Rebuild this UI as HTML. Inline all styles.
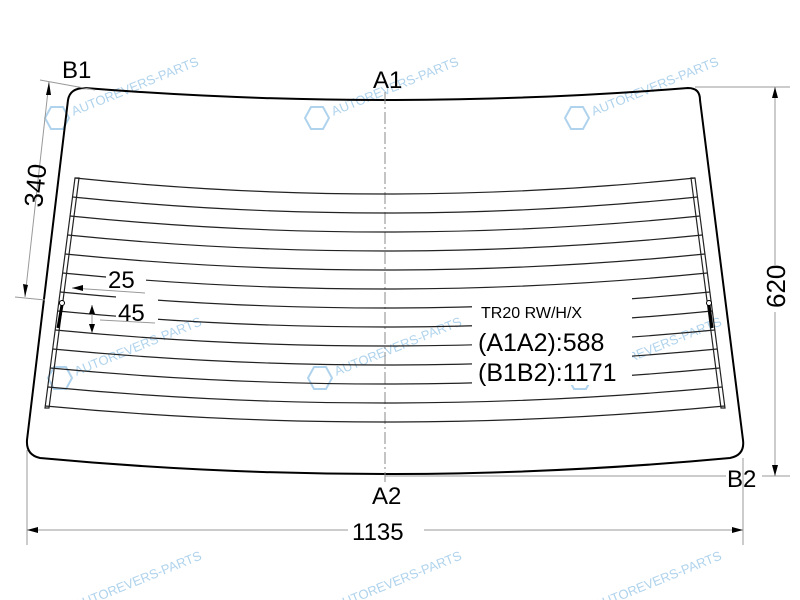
<!DOCTYPE html>
<html><head><meta charset="utf-8"><style>
html,body{margin:0;padding:0;background:#fff;}
svg{display:block;font-family:"Liberation Sans",Arial,sans-serif;}
</style></head><body>
<svg width="800" height="600" viewBox="0 0 800 600" xmlns="http://www.w3.org/2000/svg">
<g fill="#9cc8e8" font-size="13" opacity="0.8">
 <g transform="translate(55,118) rotate(-22)"><text x="18" y="5">AUTOREVERS-PARTS</text></g>
 <g transform="translate(315,118) rotate(-22)"><text x="18" y="5">AUTOREVERS-PARTS</text></g>
 <g transform="translate(575,118) rotate(-22)"><text x="18" y="5">AUTOREVERS-PARTS</text></g>
 <g transform="translate(58,378) rotate(-22)"><text x="18" y="5">AUTOREVERS-PARTS</text></g>
 <g transform="translate(318,378) rotate(-22)"><text x="18" y="5">AUTOREVERS-PARTS</text></g>
 <g transform="translate(578,378) rotate(-22)"><text x="18" y="5">AUTOREVERS-PARTS</text></g>
 <g transform="translate(58,612) rotate(-22)"><text x="18" y="5">AUTOREVERS-PARTS</text></g>
 <g transform="translate(318,612) rotate(-22)"><text x="18" y="5">AUTOREVERS-PARTS</text></g>
 <g transform="translate(578,612) rotate(-22)"><text x="18" y="5">AUTOREVERS-PARTS</text></g>
</g>
<g fill="none" stroke="#9cc8e8" stroke-width="2" opacity="0.8">
 <polygon points="45,118 51,107 63,107 69,118 63,129 51,129"/>
 <polygon points="305,118 311,107 323,107 329,118 323,129 311,129"/>
 <polygon points="565,118 571,107 583,107 589,118 583,129 571,129"/>
 <polygon points="48,378 54,367 66,367 72,378 66,389 54,389"/>
 <polygon points="308,378 314,367 326,367 332,378 326,389 314,389"/>
 <polygon points="568,378 574,367 586,367 592,378 586,389 574,389"/>
</g>
<path d="M85,88 Q385,112 688,88 Q700,88 700,100 L743,440 Q745,455 730,458 Q385,490 40,458 Q26,455 27,440 L68,100 Q70,88 85,88 Z" fill="none" stroke="#000" stroke-width="2"/>
<line x1="385" y1="92" x2="385" y2="482" stroke="#888" stroke-width="1" stroke-dasharray="12,3,2,3"/>
<g fill="none" stroke="#222" stroke-width="1.2">
<path d="M75,178 Q385,210 695,178"/>
<path d="M72.5,197 Q385,229 697.5,197"/>
<path d="M70,216 Q385,248 700,216"/>
<path d="M67.6,235 Q385,267 702.4,235"/>
<path d="M65.1,254 Q385,286 704.9,254"/>
<path d="M62.6,273 Q385,305 707.4,273"/>
<path d="M60.2,292 Q385,324 709.8,292"/>
<path d="M57.7,311 Q385,343 712.3,311"/>
<path d="M55.2,330 Q385,362 714.8,330"/>
<path d="M52.7,349 Q385,381 717.3,349"/>
<path d="M50.3,368 Q385,400 719.7,368"/>
<path d="M47.8,387 Q385,419 722.2,387"/>
<path d="M45.3,406 Q385,438 724.7,406"/>
<path d="M75,178 L45,408 L49,408 L79,178 Z"/>
<path d="M695,178 L725,408 L721,408 L691,178 Z"/>
</g>
<g stroke="#000" stroke-width="3" fill="#fff">
<line x1="62" y1="305" x2="58" y2="328"/>
<line x1="709" y1="305" x2="712" y2="328"/>
</g>
<circle cx="62" cy="303" r="2.5" fill="#fff" stroke="#000"/>
<circle cx="709" cy="303" r="2.5" fill="#fff" stroke="#000"/>
<rect x="106" y="263" width="40" height="27" fill="#fff"/>
<rect x="116" y="296" width="42" height="27" fill="#fff"/>
<rect x="472" y="295" width="160" height="90" fill="#fff"/>
<g stroke="#999" stroke-width="1" fill="none">
<line x1="40" y1="80" x2="95" y2="90"/>
<line x1="15" y1="297" x2="45" y2="300"/>
<line x1="49" y1="82" x2="25" y2="297"/>
<line x1="72" y1="288" x2="145" y2="293"/>
<line x1="92" y1="305" x2="92" y2="333"/>
<line x1="100" y1="320" x2="155" y2="323"/>
<line x1="695" y1="87" x2="790" y2="87"/>
<line x1="775" y1="87" x2="775" y2="265"/>
<line x1="775" y1="312" x2="775" y2="476"/>
<line x1="385" y1="476" x2="726" y2="476"/>
<line x1="762" y1="476" x2="790" y2="476"/>
<line x1="27" y1="450" x2="27" y2="545"/>
<line x1="743" y1="458" x2="743" y2="545"/>
<line x1="27" y1="530" x2="348" y2="530"/>
<line x1="424" y1="530" x2="743" y2="530"/>
</g>
<g fill="#000">
<polygon points="49,82 46,95 51,95"/>
<polygon points="25,297 23,284 28,285"/>
<polygon points="72,288 83,285 83,291"/>
<polygon points="92,305 89,314 95,314"/>
<polygon points="92,333 89,324 95,324"/>
<polygon points="775,87 772,98 778,98"/>
<polygon points="775,476 772,465 778,465"/>
<polygon points="27,530 38,527 38,533"/>
<polygon points="743,530 732,527 732,533"/>
</g>
<g fill="#000" font-size="24">
<text x="62" y="78">B1</text>
<text x="373" y="88">A1</text>
<text x="372" y="504">A2</text>
<text x="727" y="487">B2</text>
<text x="352" y="540">1135</text>
<text x="108" y="288">25</text>
<text x="118" y="321">45</text>
<text x="478" y="351" font-size="25">(A1A2):588</text>
<text x="478" y="381" font-size="25">(B1B2):1171</text>
</g>
<g fill="#000" font-size="26">
<text transform="translate(42,208) rotate(-84)">340</text>
<text transform="translate(785,308) rotate(-90)">620</text>
</g>
<text x="481" y="318" font-size="16" fill="#000">TR20 RW/H/X</text>
</svg>
</body></html>
